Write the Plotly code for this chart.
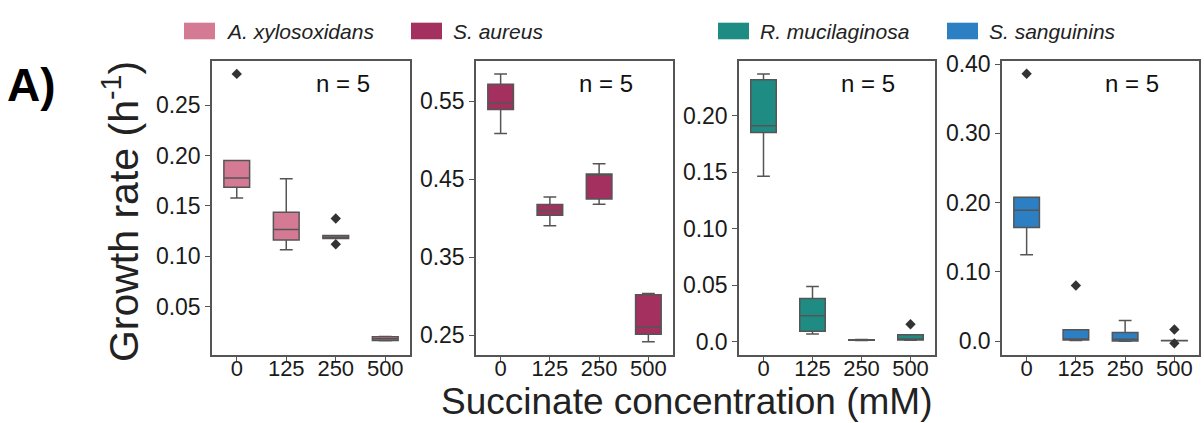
import plotly.graph_objects as go
from plotly.subplots import make_subplots

# Succinate concentrations (mM) used as categories on every panel
concentrations = ["0", "125", "250", "500"]

# Species names and colours
species = ["A. xylosoxidans", "S. aureus", "R. mucilaginosa", "S. sanguinins"]
colors = ["#D57A95", "#A3305E", "#1F8C83", "#2C7FC3"]

# Growth rates (h^-1), five replicates per concentration
growth_axy = {
    "0":   [0.158, 0.1686, 0.1777, 0.195, 0.281],
    "125": [0.1066, 0.1163, 0.1266, 0.1438, 0.177],
    "250": [0.112, 0.1176, 0.119, 0.1208, 0.1376],
    "500": [0.0163, 0.0166, 0.0182, 0.0203, 0.0205],
}
growth_sau = {
    "0":   [0.5086, 0.5395, 0.548, 0.572, 0.585],
    "125": [0.3904, 0.4038, 0.41, 0.4175, 0.4272],
    "250": [0.418, 0.4247, 0.456, 0.4568, 0.4698],
    "500": [0.2417, 0.2513, 0.26, 0.3019, 0.3035],
}
growth_rmu = {
    "0":   [0.1467, 0.1853, 0.1913, 0.232, 0.2372],
    "125": [0.0069, 0.0095, 0.0231, 0.0384, 0.0491],
    "250": [0.0012, 0.0015, 0.0017, 0.0019, 0.0022],
    "500": [0.0015, 0.0017, 0.0022, 0.0064, 0.0156],
}
growth_ssa = {
    "0":   [0.1248, 0.1643, 0.189, 0.208, 0.386],
    "125": [0.0010, 0.0018, 0.0025, 0.0165, 0.0805],
    "250": [0.0, 0.0003, 0.003, 0.0127, 0.030],
    "500": [-0.003, 0.0008, 0.0010, 0.0012, 0.017],
}
growth = [growth_axy, growth_sau, growth_rmu, growth_ssa]

# Y axis ranges and tick labels per panel
y_ranges = [[0.0025, 0.294], [0.225, 0.602], [-0.0113, 0.2488], [-0.0193, 0.4048]]
y_tickvals = [
    [0.05, 0.10, 0.15, 0.20, 0.25],
    [0.25, 0.35, 0.45, 0.55],
    [0.0, 0.05, 0.10, 0.15, 0.20],
    [0.0, 0.10, 0.20, 0.30, 0.40],
]
y_ticktext = [
    ["0.05", "0.10", "0.15", "0.20", "0.25"],
    ["0.25", "0.35", "0.45", "0.55"],
    ["0.0", "0.05", "0.10", "0.15", "0.20"],
    ["0.0", "0.10", "0.20", "0.30", "0.40"],
]

W, H = 1204, 423
FONT = "Liberation Sans, Arial, sans-serif"
EDGE = "#555555"

# Panel placement in pixels (left, right), shared top/bottom
panel_px = [(212, 410), (476, 673), (739, 935), (1002, 1199)]
top_px, bottom_px = 52, 353


def px_x(p):
    return p / W


def px_y(p):
    return 1 - p / H


fig = make_subplots(rows=1, cols=4)

for i, data in enumerate(growth):
    xs, ys = [], []
    for c in concentrations:
        xs += [c] * len(data[c])
        ys += data[c]
    fig.add_trace(
        go.Box(
            x=xs, y=ys, name=species[i],
            fillcolor=colors[i],
            line=dict(color=EDGE, width=1.5),
            marker=dict(symbol="diamond", color="#333333", size=8),
            boxpoints="outliers", jitter=0, pointpos=0,
            width=0.52, whiskerwidth=0.5,
            quartilemethod="inclusive",
            showlegend=False,
        ),
        row=1, col=i + 1,
    )
    l, r = panel_px[i]
    ax = dict(
        showline=True, mirror=True, linecolor=EDGE, linewidth=1.5,
        ticks="outside", ticklen=5, tickcolor=EDGE, tickwidth=1.2,
        showgrid=False, zeroline=False,
    )
    fig.update_xaxes(
        **ax, domain=[px_x(l), px_x(r)],
        tickfont=dict(family=FONT, size=22, color="#1a1a1a"),
        type="category", categoryorder="array", categoryarray=concentrations,
        range=[-0.5, 3.5], ticklabelstandoff=-12, row=1, col=i + 1,
    )
    fig.update_yaxes(
        **ax, domain=[px_y(bottom_px), px_y(top_px)],
        tickfont=dict(family=FONT, size=23, color="#1a1a1a"),
        range=y_ranges[i], tickmode="array",
        tickvals=y_tickvals[i], ticktext=y_ticktext[i], row=1, col=i + 1,
    )
    # sample size label in each panel
    fig.add_annotation(
        xref="paper", yref="paper",
        x=px_x(l + 0.66 * (r - l)), y=px_y(75),
        xanchor="center", yanchor="middle",
        text="n = 5", showarrow=False,
        font=dict(family=FONT, size=24, color="#111111"),
    )

# Legend drawn as colour swatches with italic species names
legend_swatch_px = [184, 411, 718, 947]
for i, name in enumerate(species):
    x0 = legend_swatch_px[i]
    fig.add_shape(
        type="rect", xref="paper", yref="paper",
        x0=px_x(x0), x1=px_x(x0 + 31), y0=px_y(30), y1=px_y(13),
        fillcolor=colors[i], line=dict(width=0),
    )
    fig.add_annotation(
        xref="paper", yref="paper", x=px_x(x0 + 40), y=px_y(22),
        xanchor="left", yanchor="middle", showarrow=False,
        text=f"<i>{name}</i>",
        font=dict(family=FONT, size=21, color="#222222"),
    )

# Panel label and shared axis titles
fig.add_annotation(
    xref="paper", yref="paper", x=px_x(31), y=px_y(77),
    xanchor="center", yanchor="middle",
    text="<b>A)</b>", showarrow=False,
    font=dict(family=FONT, size=46, color="#000000"),
)
fig.add_annotation(
    xref="paper", yref="paper", x=px_x(121), y=px_y(207),
    xanchor="center", yanchor="middle",
    text="Growth rate (h<sup>-1</sup>)", textangle=-90, showarrow=False,
    font=dict(family=FONT, size=41, color="#222222"),
)
fig.add_annotation(
    xref="paper", yref="paper", x=px_x(686), y=px_y(401),
    xanchor="center", yanchor="middle",
    text="Succinate concentration (mM)", showarrow=False,
    font=dict(family=FONT, size=37, color="#222222"),
)

fig.update_layout(
    width=W, height=H,
    margin=dict(l=0, r=0, t=0, b=0),
    paper_bgcolor="white", plot_bgcolor="white",
    boxmode="overlay",
    showlegend=False,
)

fig.write_html("out.html")
